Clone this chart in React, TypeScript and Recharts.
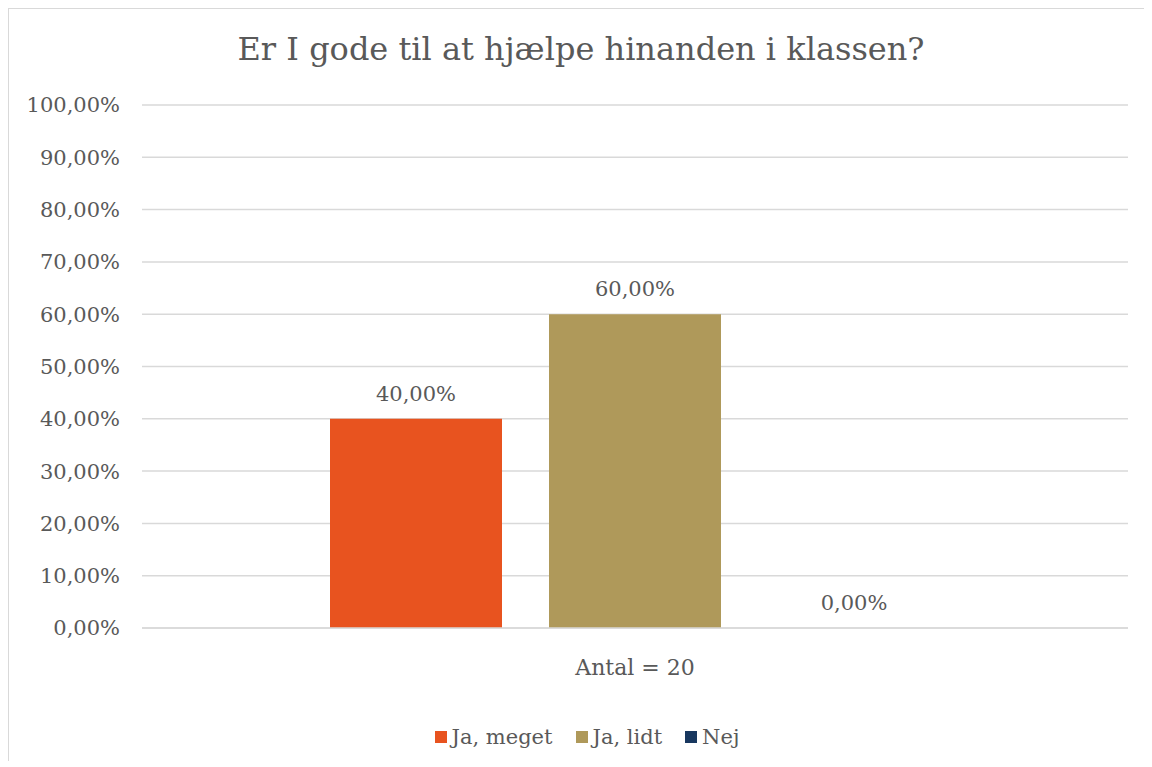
import React from 'react';
import { BarChart, Bar, XAxis, YAxis, CartesianGrid, Legend, LabelList } from 'recharts';

const categories = ['Antal = 20'];
const seriesNames = ['Ja, meget', 'Ja, lidt', 'Nej'];
const seriesValues = [0.4, 0.6, 0];
const seriesColors = ['#E8531F', '#AF995A', '#18375F'];
const yTicks = [0, 0.1, 0.2, 0.3, 0.4, 0.5, 0.6, 0.7, 0.8, 0.9, 1];

const FONT = '"DejaVu Serif", Georgia, serif';
const TEXT = '#595959';

const data = categories.map((c) => {
    const row: Record<string, string | number> = { name: c };
    seriesNames.forEach((s, i) => {
        row[s] = seriesValues[i];
    });
    return row;
});

const pct = (v: number) => (v * 100).toFixed(2).replace('.', ',') + '%';

// value label above each bar, also drawn when the value is 0
const renderValue = (props: any) => {
    const { x, y, width, value } = props;
    return (
        <text x={Number(x) + Number(width) / 2} y={Number(y) - 18} textAnchor="middle" fill={TEXT} fontSize={21} fontFamily={FONT}>
            {pct(Number(value))}
        </text>
    );
};

const LegendContent = () => (
    <div style={{ display: 'flex', justifyContent: 'center', alignItems: 'center', height: 26, paddingLeft: 37, fontFamily: FONT, fontSize: 21, color: TEXT }}>
        {seriesNames.map((s, i) => (
            <div key={s} style={{ display: 'flex', alignItems: 'center', marginRight: i < seriesNames.length - 1 ? 23 : 0 }}>
                <span style={{ display: 'inline-block', width: 12, height: 12, background: seriesColors[i], marginRight: 5 }} />
                <span>{s}</span>
            </div>
        ))}
    </div>
);

export default function App() {
    return (
        <div style={{ position: 'relative', width: 1144, height: 752, borderLeft: '1px solid #d9d9d9', borderTop: '1px solid #d9d9d9', background: '#fff' }}>
            <div style={{ position: 'absolute', left: 0, right: 0, top: 21, textAlign: 'center', fontFamily: FONT, fontSize: 32, color: TEXT }}>
                Er I gode til at hjælpe hinanden i klassen?
            </div>
            <BarChart
                width={1143}
                height={751}
                data={data}
                margin={{ top: 96, right: 24, bottom: 10, left: 0 }}
                barSize={172}
                barGap={47}
            >
                <CartesianGrid vertical={false} stroke="#d9d9d9" strokeWidth={1.5} />
                <YAxis
                    width={133}
                    domain={[0, 1]}
                    ticks={yTicks}
                    tickFormatter={pct}
                    axisLine={false}
                    tickLine={false}
                    tickMargin={16}
                    tick={{ fill: TEXT, fontSize: 21, fontFamily: FONT }}
                />
                <XAxis
                    dataKey="name"
                    height={96}
                    axisLine={{ stroke: '#d9d9d9', strokeWidth: 1.5 }}
                    tickLine={false}
                    tickMargin={25}
                    tick={{ fill: TEXT, fontSize: 22, fontFamily: FONT }}
                />
                <Legend verticalAlign="bottom" height={26} content={<LegendContent />} />
                {seriesNames.map((s, i) => (
                    <Bar key={s} dataKey={s} fill={seriesColors[i]} minPointSize={0.01} isAnimationActive={false}>
                        <LabelList dataKey={s} content={renderValue} />
                    </Bar>
                ))}
            </BarChart>
        </div>
    );
}
